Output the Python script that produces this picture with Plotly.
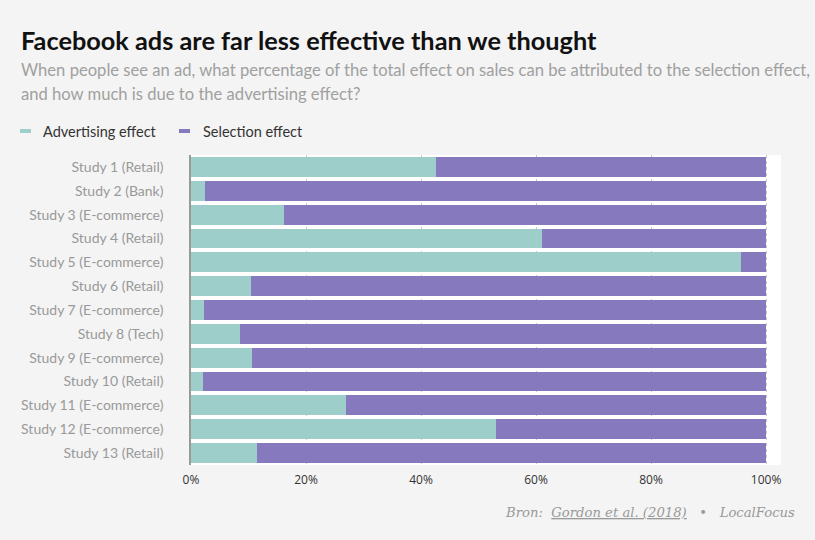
import plotly.graph_objects as go

studies = ["Study 1 (Retail)", "Study 2 (Bank)", "Study 3 (E-commerce)", "Study 4 (Retail)",
           "Study 5 (E-commerce)", "Study 6 (Retail)", "Study 7 (E-commerce)", "Study 8 (Tech)",
           "Study 9 (E-commerce)", "Study 10 (Retail)", "Study 11 (E-commerce)",
           "Study 12 (E-commerce)", "Study 13 (Retail)"]
advertising = [42.6, 2.4, 16.2, 61.0, 95.7, 10.4, 2.3, 8.5, 10.6, 2.1, 27.0, 53.0, 11.5]
selection = [round(100 - a, 1) for a in advertising]
tick_vals = [0, 20, 40, 60, 80, 100]
tick_text = ["0%", "20%", "40%", "60%", "80%", "100%"]
series_names = ["Advertising effect", "Selection effect"]

TEAL = "#9ecec9"
PURPLE = "#8779bd"

fig = go.Figure()
fig.add_trace(go.Bar(y=studies, x=advertising, name=series_names[0], orientation="h",
                     marker=dict(color=TEAL, line=dict(width=0))))
fig.add_trace(go.Bar(y=studies, x=selection, name=series_names[1], orientation="h",
                     marker=dict(color=PURPLE, line=dict(width=0))))

def px2x(px):
    return (px - 191) / 590

def py2y(py):
    return (465 - py) / 310

shapes = []
annotations = []
# manual legend
for name, color, sx, tx in [(series_names[0], TEAL, 20, 41), (series_names[1], PURPLE, 179, 201)]:
    shapes.append(dict(type="rect", xref="paper", yref="paper",
                       x0=px2x(sx), x1=px2x(sx + 11), y0=py2y(133), y1=py2y(129),
                       fillcolor=color, line=dict(width=0)))
    annotations.append(dict(text=name, xref="paper", yref="paper", x=px2x(tx), y=py2y(131),
                            xanchor="left", yanchor="middle", showarrow=False,
                            font=dict(size=14.5, color="#333", family="Lato")))

annotations += [
    dict(text="<b>Facebook ads are far less effective than we thought</b>", xref="paper", yref="paper",
         x=px2x(19), y=py2y(40), xanchor="left", yanchor="middle", showarrow=False,
         font=dict(size=25.3, color="#111", family="Lato")),
    dict(text="When people see an ad, what percentage of the total effect on sales can be attributed to the selection effect,",
         xref="paper", yref="paper", x=px2x(19), y=py2y(70), xanchor="left", yanchor="middle",
         showarrow=False, font=dict(size=16.6, color="#a0a0a0", family="Lato")),
    dict(text="and how much is due to the advertising effect?",
         xref="paper", yref="paper", x=px2x(19), y=py2y(94), xanchor="left", yanchor="middle",
         showarrow=False, font=dict(size=16.6, color="#a0a0a0", family="Lato")),
    dict(text="<i>Bron:  <u>Gordon et al. (2018)</u>   •   LocalFocus</i>",
         xref="paper", yref="paper", x=px2x(797), y=py2y(512), xanchor="right", yanchor="middle",
         showarrow=False, font=dict(size=13.2, color="#999", family="DejaVu Serif")),
]

fig.update_layout(
    width=815, height=540,
    margin=dict(l=191, r=34, t=155, b=75),
    paper_bgcolor="#f4f4f4", plot_bgcolor="#ffffff",
    barmode="stack", bargap=0.17,
    font=dict(family="Lato", color="#333"),
    showlegend=False,
    xaxis=dict(range=[0, 102.6], tickvals=tick_vals, ticktext=tick_text,
               showgrid=True, gridcolor="#c8c8c8", griddash="dot", gridwidth=1,
               zeroline=False, showline=False, ticks="", ticklabelstandoff=6,
               tickfont=dict(size=12, color="#333", family="Open Sans")),
    yaxis=dict(autorange="reversed", showline=True, linecolor="#999", linewidth=1.5,
               ticks="", ticklabelstandoff=23, showgrid=False,
               tickfont=dict(size=14, color="#999", family="Lato")),
    shapes=shapes,
    annotations=annotations,
)

fig.write_html("out.html", config={"displayModeBar": False},
               post_script="document.body.style.margin='0';document.body.style.background='#f4f4f4';")
